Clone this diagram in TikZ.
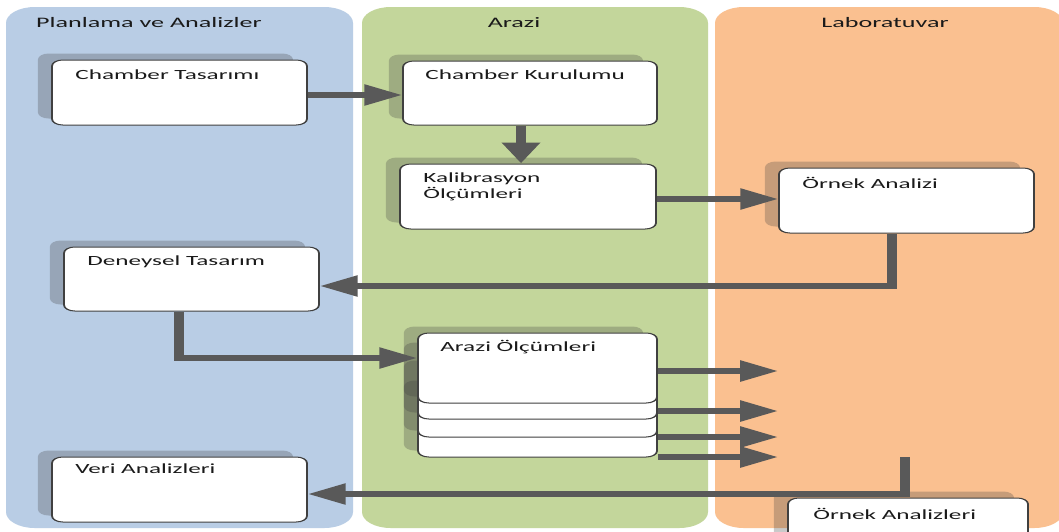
\documentclass[tikz,border=0pt]{standalone}
\usepackage{fontspec}
\setmainfont{Carlito}
\usetikzlibrary{arrows.meta,shadows}
\definecolor{colblue}{HTML}{B9CDE5}
\definecolor{colgreen}{HTML}{C3D69B}
\definecolor{colorange}{HTML}{FAC090}
\definecolor{arrcol}{HTML}{595959}
\definecolor{boxline}{HTML}{404040}
\definecolor{txtcol}{HTML}{1A1A1A}
\newcommand\mybox[5]{\node[box, minimum width={(#4-#2)*0.55556pt}, minimum height={(#5-#3)*1pt}] (#1) at ({(#2+#4)/2},{(#3+#5)/2}) {};}
\begin{document}
\begin{tikzpicture}
\useasboundingbox[fill=white] (0pt,0pt) rectangle (1059pt,-531pt);
\begin{scope}[transform canvas={xscale=1.8}, x={(0.55556pt,0pt)}, y={(0pt,-1pt)},
  col/.style={rounded corners=16pt},
  box/.style={rectangle, draw=boxline, line width=1pt, fill=white, rounded corners=6pt, inner sep=0pt,
    general shadow={fill=black!75, opacity=0.28, shadow xshift=-7.8pt, shadow yshift=6.5pt}},
  lbl/.style={font=\fontsize{14}{16}\selectfont, inner sep=0pt, text=txtcol, anchor=west, align=left},
  hdr/.style={font=\fontsize{14.5}{16}\selectfont, inner sep=0pt, text=txtcol},
  arr/.style={draw=arrcol, line width=6pt, -{Triangle[length=21pt, width=20pt]}}]
\clip (0,0) rectangle (1059,531);
% columns
\fill[colblue, col] (6,7) rectangle (353,528);
\fill[colgreen, col] (362,7) rectangle (708,528);
\fill[colorange, col] (715,7) rectangle (1063,528);
\node[hdr] (h1) at (149,23) {Planlama ve Analizler};
\node[hdr] (h2) at (514,23) {Arazi};
\node[hdr] (h3) at (885,23) {Laboratuvar};
% boxes
\mybox{ct}{52}{60}{307}{125}
\mybox{ck}{403}{61}{657}{125}
\mybox{kal}{400}{164}{656}{229}
\mybox{oa}{779}{168}{1034}{233}
\mybox{dt}{64}{247}{319}{311}
\mybox{az4}{418}{387}{657}{457}
\mybox{az3}{418}{367}{657}{437}
\mybox{az2}{418}{349}{657}{419}
\mybox{az1}{418}{333}{657}{403}
\mybox{va}{52}{457}{307}{522}
\mybox{oan}{788}{498}{1028}{570}
% labels
\node[lbl] (tct) at (75,75) {Chamber Tasarımı};
\node[lbl] (tck) at (425,75) {Chamber Kurulumu};
\node[lbl] (tkal) at (423,187) {Kalibrasyon\\Ölçümleri};
\node[lbl] (toa) at (802,183) {Örnek Analizi};
\node[lbl] (tdt) at (87,262) {Deneysel Tasarım};
\node[lbl] (taz) at (440,347) {Arazi Ölçümleri};
\node[lbl] (tva) at (75,469) {Veri Analizleri};
\node[lbl] (toan) at (813,514) {Örnek Analizleri};
% free ends
\coordinate (e1) at (778,371);
\coordinate (e2) at (778,411);
\coordinate (e3) at (778,437);
\coordinate (e4) at (778,457);
\coordinate (s7) at (905,457);
% connectors
\draw[arr] (ct.east |- 0,95) -- (ck.west |- 0,95);
\draw[arr] (ck.south -| 521,0) -- (kal.north -| 521,0);
\draw[arr] (kal.east |- 0,199) -- (oa.west |- 0,199);
\draw[arr] (oa.south -| 892,0) -- (892,286) -- (dt.east |- 0,286);
\draw[arr] (dt.south -| 179,0) -- (179,358) -- (az1.west |- 0,358);
\draw[arr] (az1.east |- e1) -- (e1);
\draw[arr] (az2.east |- e2) -- (e2);
\draw[arr] (az3.east |- e3) -- (e3);
\draw[arr] (az4.east |- e4) -- (e4);
\draw[arr] (s7) -- (905,494) -- (va.east |- 0,494);
\end{scope}
\end{tikzpicture}
\end{document}
